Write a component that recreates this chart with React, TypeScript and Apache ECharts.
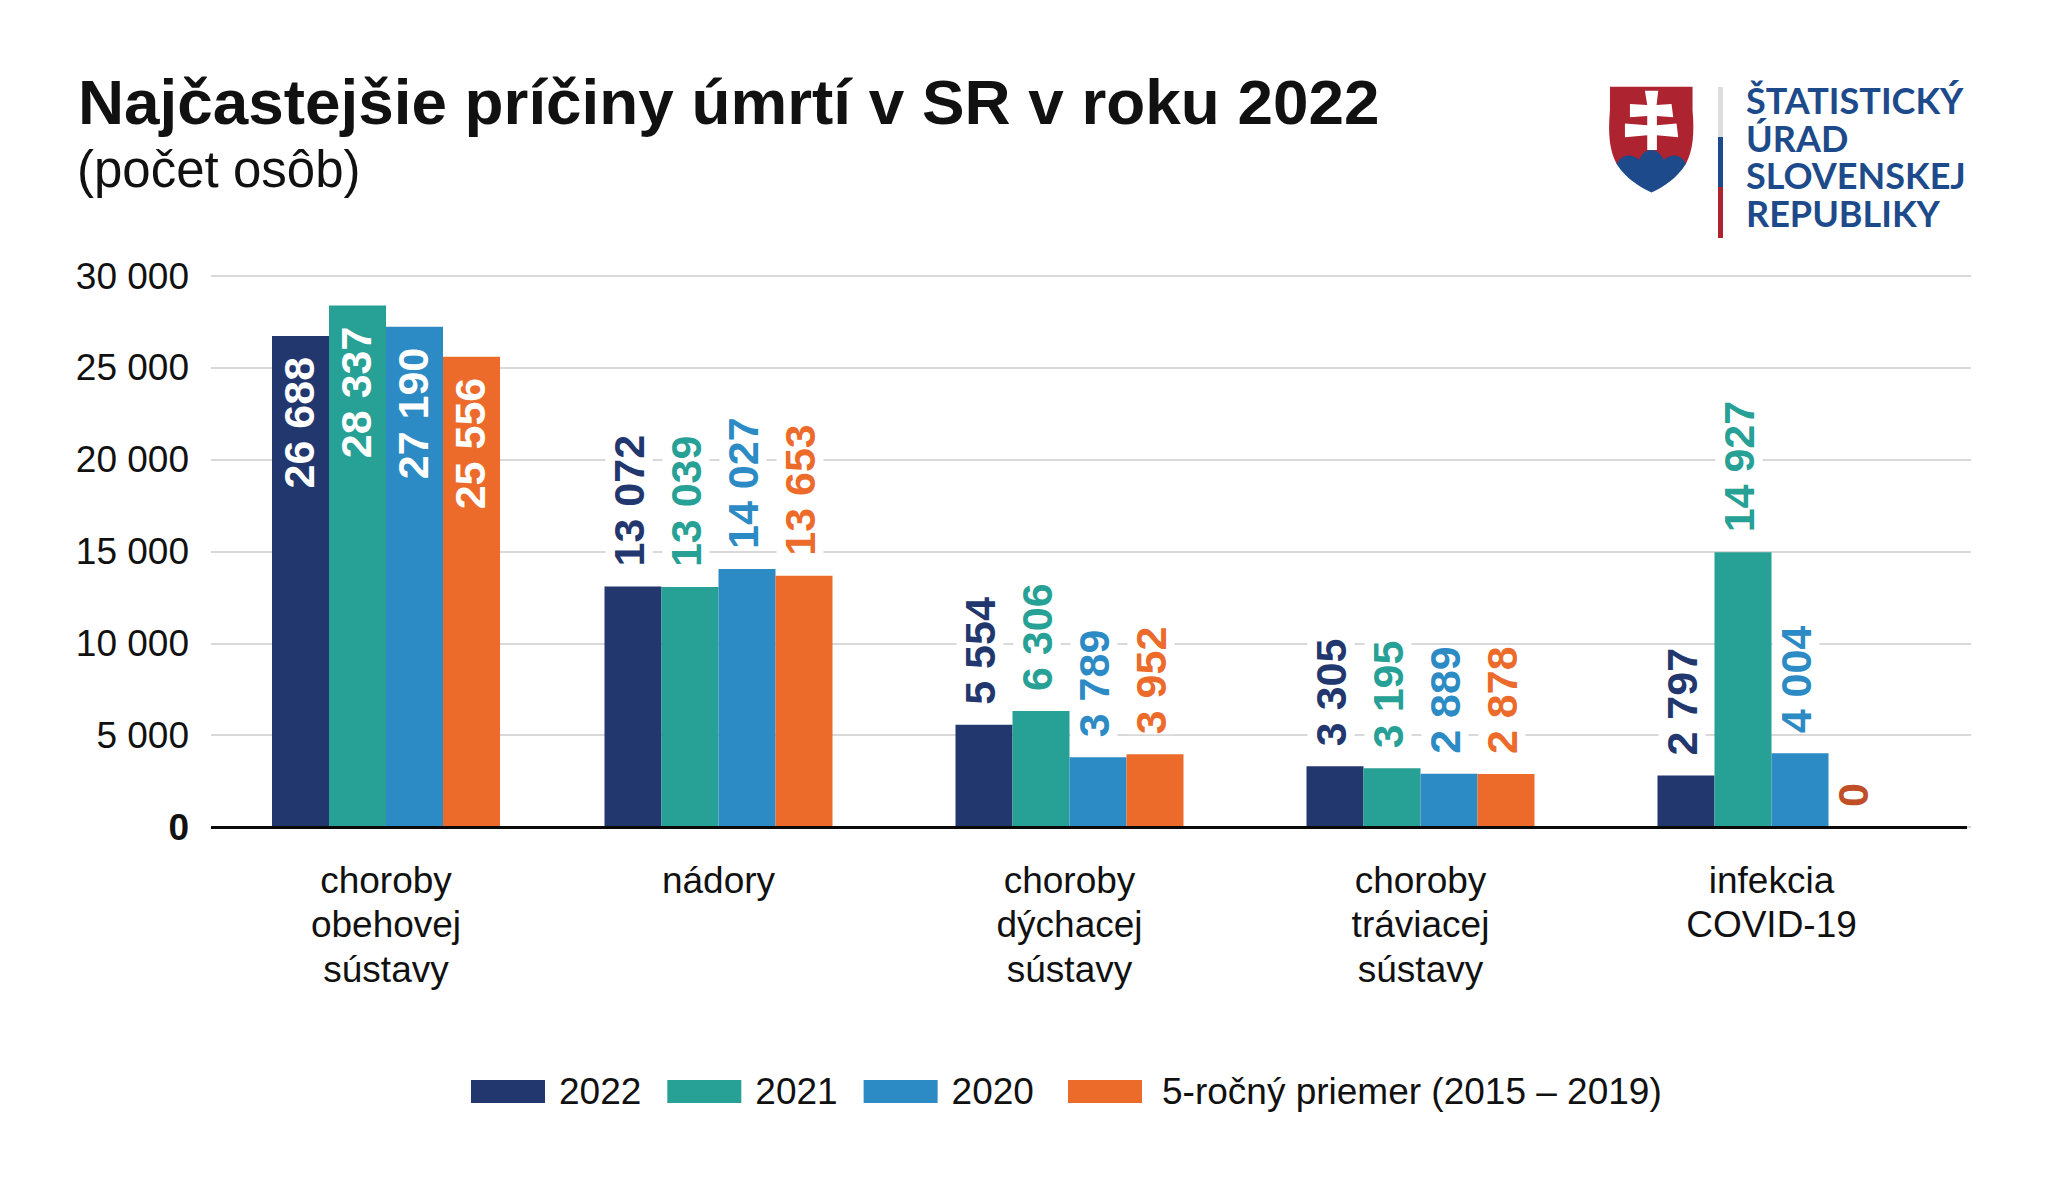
import React, { useEffect, useRef } from "react";
import * as echarts from "echarts";

const titleText = "Najčastejšie príčiny úmrtí v SR v roku 2022";
const subtitleText = "(počet osôb)";
const firstCategory = ["choroby\nobehovej\nsústavy"];
const otherCategories = ["nádory", "choroby\ndýchacej\nsústavy", "choroby\ntráviacej\nsústavy", "infekcia\nCOVID-19"];
const seriesNames = ["2022", "2021", "2020", "5-ročný priemer (2015 – 2019)"];
const seriesColors = ["#22376e", "#27a096", "#2c8ac4", "#ec6b2b"];
const values2022 = [26688, 13072, 5554, 3305, 2797];
const values2021 = [28337, 13039, 6306, 3195, 14927];
const values2020 = [27190, 14027, 3789, 2889, 4004];
const valuesAvg = [25556, 13653, 3952, 2878, 0];
const allValues = [values2022, values2021, values2020, valuesAvg];
const logoLines = ["ŠTATISTICKÝ", "ÚRAD", "SLOVENSKEJ", "REPUBLIKY"];

const FONT = '"Liberation Sans", Arial, sans-serif';
const fmt = (v: number) => String(v).replace(/\B(?=(\d{3})+(?!\d))/g, " ");

const shieldPath =
  "M150 80 L398 80 L398 150 C404 220 400 270 378 312 L170 312 C148 270 144 220 150 150 Z";
const hillsPath =
  "M170 312 C178 296 192 287 205 287 C218 287 230 292 238 300 C244 282 258 270 274 270 C290 270 304 282 312 300 C320 292 332 287 343 287 C358 287 370 296 378 312 C350 356 312 380 275 398 C238 380 198 356 170 312 Z";
const crossPath =
  "M255 92 L295 92 L290 135 L335 132 L340 172 L291 168 L291 196 L350 191 L355 232 L291 226 L291 270 L262 270 L262 226 L195 232 L195 191 L262 196 L262 168 L210 172 L210 132 L262 135 Z";

export default function App() {
  const ref = useRef<HTMLDivElement>(null);
  useEffect(() => {
    document.body.style.margin = "0";
    echarts.graphic.registerShape("sukShield", echarts.graphic.extendPath(shieldPath, {}));
    echarts.graphic.registerShape("sukHills", echarts.graphic.extendPath(hillsPath, {}));
    echarts.graphic.registerShape("sukCross", echarts.graphic.extendPath(crossPath, {}));
    const chart = echarts.init(ref.current!, undefined, { renderer: "svg" });

    const makeSeries = (axisIndex: number, from: number, to: number) =>
      seriesNames.map((name, i) => ({
        name,
        type: "bar" as const,
        xAxisIndex: axisIndex,
        yAxisIndex: axisIndex,
        barWidth: 57,
        barGap: 0,
        itemStyle: { color: seriesColors[i] },
        data: allValues[i].slice(from, to).map((v) => ({
          value: v,
          label:
            axisIndex === 1
              ? {
                  show: true,
                  position: "insideTop",
                  distance: 21,
                  rotate: 90,
                  align: "right",
                  verticalAlign: "middle",
                  offset: [0, -2],
                  color: "#ffffff",
                  fontFamily: FONT,
                  fontSize: 43,
                  fontWeight: "bold",
                  formatter: () => fmt(v),
                }
              : {
                  show: true,
                  position: "top",
                  distance: 20,
                  rotate: 90,
                  align: "left",
                  verticalAlign: "middle",
                  offset: [0, -4],
                  color: v === 0 ? "#c04f28" : seriesColors[i],
                  backgroundColor: "#ffffff",
                  padding: [2, 0, 2, 0],
                  fontFamily: FONT,
                  fontSize: 43,
                  fontWeight: "bold",
                  formatter: () => fmt(v),
                },
        })),
      }));

    const catAxis = (gridIndex: number, data: string[]) => ({
      type: "category" as const,
      gridIndex,
      data,
      axisLine: { show: false },
      axisTick: { show: false },
      axisLabel: {
        interval: 0,
        margin: 31,
        color: "#111111",
        fontFamily: FONT,
        fontSize: 37,
        lineHeight: 44.5,
      },
    });
    const hiddenY = (gridIndex: number) => ({
      type: "value" as const,
      gridIndex,
      min: 0,
      max: 30000,
      interval: 5000,
      show: false,
    });
    const legendText = (gap: number) => ({
      fontFamily: FONT,
      fontSize: 37,
      color: "#111111",
      padding: [0, 0, 0, gap],
    });

    chart.setOption({
      animation: false,
      backgroundColor: "#ffffff",
      title: [
        {
          text: titleText,
          left: 73,
          top: 65,
          textStyle: { fontFamily: FONT, fontSize: 63.8, fontWeight: "bold", color: "#111111" },
        },
        {
          text: subtitleText,
          left: 72,
          top: 139,
          textStyle: { fontFamily: FONT, fontSize: 51, fontWeight: "normal", color: "#111111" },
        },
      ],
      legend: [
        {
          left: 466,
          top: 1068,
          icon: "rect",
          itemWidth: 74,
          itemHeight: 23,
          itemGap: 26,
          data: seriesNames.slice(0, 3),
          textStyle: legendText(9),
        },
        {
          left: 1063,
          top: 1068,
          icon: "rect",
          itemWidth: 74,
          itemHeight: 23,
          data: seriesNames.slice(3),
          textStyle: legendText(15),
        },
      ],
      grid: [
        { left: 211, top: 276, width: 1760, height: 551 },
        { left: 211, top: 275, width: 350, height: 552 },
        { left: 543, top: 275, width: 1404, height: 552 },
      ],
      xAxis: [
        { type: "category", gridIndex: 0, data: [""], show: false },
        catAxis(1, firstCategory),
        catAxis(2, otherCategories),
      ],
      yAxis: [
        {
          type: "value",
          gridIndex: 0,
          min: 0,
          max: 30000,
          interval: 5000,
          axisLine: { show: false },
          axisTick: { show: false },
          splitLine: { show: true, lineStyle: { color: "#d9d9d9", width: 2 } },
          axisLabel: {
            margin: 22,
            color: "#111111",
            fontFamily: FONT,
            fontSize: 37,
            formatter: (v: number) => (v === 0 ? "{zero|0}" : fmt(v)),
            rich: {
              zero: { fontFamily: FONT, fontSize: 37, fontWeight: "bold", color: "#111111" },
            },
          },
        },
        hiddenY(1),
        hiddenY(2),
      ],
      series: [...makeSeries(1, 0, 1), ...makeSeries(2, 1, 5)],
      graphic: [
        {
          type: "line",
          z: 50,
          shape: { x1: 211, y1: 827.5, x2: 1967, y2: 827.5 },
          style: { stroke: "#0a0a0a", lineWidth: 3 },
        },
        { type: "sukShield", x: 1560, y: 60, scaleX: 1 / 3, scaleY: 1 / 3, style: { fill: "#ae2330" } },
        { type: "sukHills", x: 1560, y: 60, scaleX: 1 / 3, scaleY: 1 / 3, style: { fill: "#1d4a8a" } },
        { type: "sukCross", x: 1560, y: 60, scaleX: 1 / 3, scaleY: 1 / 3, style: { fill: "#ffffff" } },
        { type: "rect", shape: { x: 1718, y: 87, width: 5, height: 50 }, style: { fill: "#dddddd" } },
        { type: "rect", shape: { x: 1718, y: 137, width: 5, height: 50 }, style: { fill: "#1d4a8a" } },
        { type: "rect", shape: { x: 1718, y: 187, width: 5, height: 51 }, style: { fill: "#ae2330" } },
        ...logoLines.map((line, i) => ({
          type: "text",
          x: 1746,
          y: 100 + i * 37.7,
          style: {
            text: line,
            fill: "#1d4a8a",
            font: `bold 36px Lato, sans-serif`,
            verticalAlign: "middle",
          },
        })),
      ],
    });
    return () => chart.dispose();
  }, []);
  return <div ref={ref} style={{ width: 2048, height: 1192 }} />;
}
